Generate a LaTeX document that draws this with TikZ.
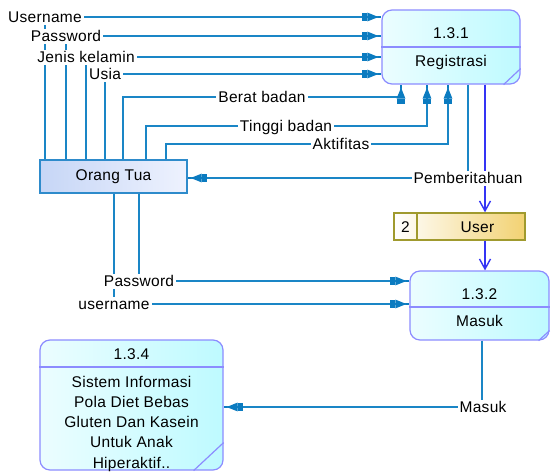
\documentclass[tikz,border=0pt]{standalone}
\usepackage{fontspec}
\setmainfont{Liberation Sans}[LetterSpace=2]
\usetikzlibrary{arrows.meta}
\definecolor{flowc}{HTML}{1A86C6}
\definecolor{tipc}{HTML}{0B7BC0}
\definecolor{pborder}{HTML}{8C8CFF}
\definecolor{pfill}{HTML}{BEFAFF}
\definecolor{otborder}{HTML}{2E8BCB}
\definecolor{otleft}{HTML}{C6D6F6}
\definecolor{otright}{HTML}{EEF2FE}
\definecolor{sborder}{HTML}{A09A2E}
\definecolor{sfill}{HTML}{F2D272}
\definecolor{sflowc}{HTML}{3434F4}
\begin{document}
\begin{tikzpicture}[x=1pt,y=-1pt,
  every node/.style={font=\fontsize{15.5pt}{20.2pt}\selectfont, inner sep=0pt},
  proc/.style={draw=pborder, line width=1.2pt, rounded corners=10pt, left color=white!70!pfill, right color=pfill},
  pline/.style={draw=pborder, line width=1.2pt},
  ent/.style={draw=otborder, line width=1.3pt, left color=otleft, right color=otright},
  store/.style={draw=sborder, line width=1.3pt, left color=white, right color=sfill},
  flow/.style={draw=flowc, line width=1.2pt,
    -{Rectangle[length=5pt,width=8pt,color=tipc] Triangle[length=11pt,width=8.5pt,color=tipc] Rectangle[length=3pt,width=1.4pt,color=tipc]}},
  sflow/.style={draw=sflowc, line width=1.4pt, -{Straight Barb[length=10pt,width=11pt]}},
  lbl/.style={fill=white, inner sep=2pt, text height=11pt, text depth=0pt}]
\useasboundingbox (0,0) rectangle (553,471);

% processes
\node[proc, minimum width=138pt, minimum height=74pt] (p131) at (451,47) {};
\draw[pline] (p131.west) -- (p131.east);
\draw[pline] ([yshift=16pt]p131.south east) -- ([xshift=-17pt]p131.south east);
\node[anchor=base] (t131) at (451,38.5) {1.3.1};
\node[anchor=base] (n131) at (451,66) {Registrasi};

\node[proc, minimum width=139pt, minimum height=69pt] (p132) at (479.5,305.5) {};
\draw[pline] (p132.west |- 0,307) -- (p132.east |- 0,307);
\draw[pline] ([yshift=10pt]p132.south east) -- ([xshift=-11pt]p132.south east);
\node[anchor=base] (t132) at (479.5,299) {1.3.2};
\node[anchor=base] (n132) at (479.5,326) {Masuk};

\node[proc, minimum width=183pt, minimum height=130pt] (p134) at (131.5,405) {};
\draw[pline] (p134.west |- 0,367) -- (p134.east |- 0,367);
\draw[pline] ([yshift=28pt]p134.south east) -- ([xshift=-30pt]p134.south east);
\node[anchor=base] (t134) at (131.5,359.5) {1.3.4};
\node[anchor=base, align=center] (n134) at (131.5,468) {Sistem Informasi\\Pola Diet Bebas\\Gluten Dan Kasein\\Untuk Anak\\Hiperaktif..};

% external entity
\node[ent, minimum width=147pt, minimum height=33pt] (ot) at (113.5,176.5) {};
\node[anchor=base] (tot) at (113.5,180) {Orang Tua};

% data store
\node[store, minimum width=131pt, minimum height=27pt] (user) at (459.5,226.5) {};
\draw[draw=sborder, line width=1.3pt] (user.north -| 417,0) -- (user.south -| 417,0);
\node[anchor=base] (snum) at (405.5,232) {2};
\node[anchor=base] (sname) at (477.5,232) {User};

% flows Orang Tua -> 1.3.1
\draw[flow] (ot.north -| 45,0) |- (p131.west |- 0,17);
\draw[flow] (ot.north -| 66,0) |- (p131.west |- 0,36);
\draw[flow] (ot.north -| 86,0) |- (p131.west |- 0,57);
\draw[flow] (ot.north -| 105,0) |- (p131.west |- 0,74);
\draw[flow] (ot.north -| 123,0) |- (401,97) -- (p131.south -| 401,0);
\draw[flow] (ot.north -| 146,0) |- (427,126) -- (p131.south -| 427,0);
\draw[flow] (ot.north -| 166,0) |- (448,144) -- (p131.south -| 448,0);
\draw[flow] (p131.south -| 468,0) |- (ot.east |- 0,178);

% flows Orang Tua -> 1.3.2
\draw[flow] (ot.south -| 139,0) |- (p132.west |- 0,281);
\draw[flow] (ot.south -| 114,0) |- (p132.west |- 0,304);

% 1.3.2 -> 1.3.4
\draw[flow] (p132.south -| 482,0) |- (p134.east |- 0,407);

% store flows
\draw[sflow] (p131.south -| 485,0) -- (user.north -| 485,0);
\draw[sflow] (user.south -| 485,0) -- (p132.north -| 485,0);

% labels
\node[lbl] (l1) at (45,17) {Username};
\node[lbl] (l2) at (66,36) {Password};
\node[lbl] (l3) at (86,57) {Jenis kelamin};
\node[lbl] (l4) at (105,74) {Usia};
\node[lbl] (l5) at (262,97) {Berat badan};
\node[lbl] (l6) at (286,126) {Tinggi badan};
\node[lbl] (l7) at (341,144) {Aktifitas};
\node[lbl] (l8) at (468,178) {Pemberitahuan};
\node[lbl] (l9) at (139,281) {Password};
\node[lbl] (l10) at (114,304) {username};
\node[lbl] (l11) at (483,407) {Masuk};
\end{tikzpicture}
\end{document}
